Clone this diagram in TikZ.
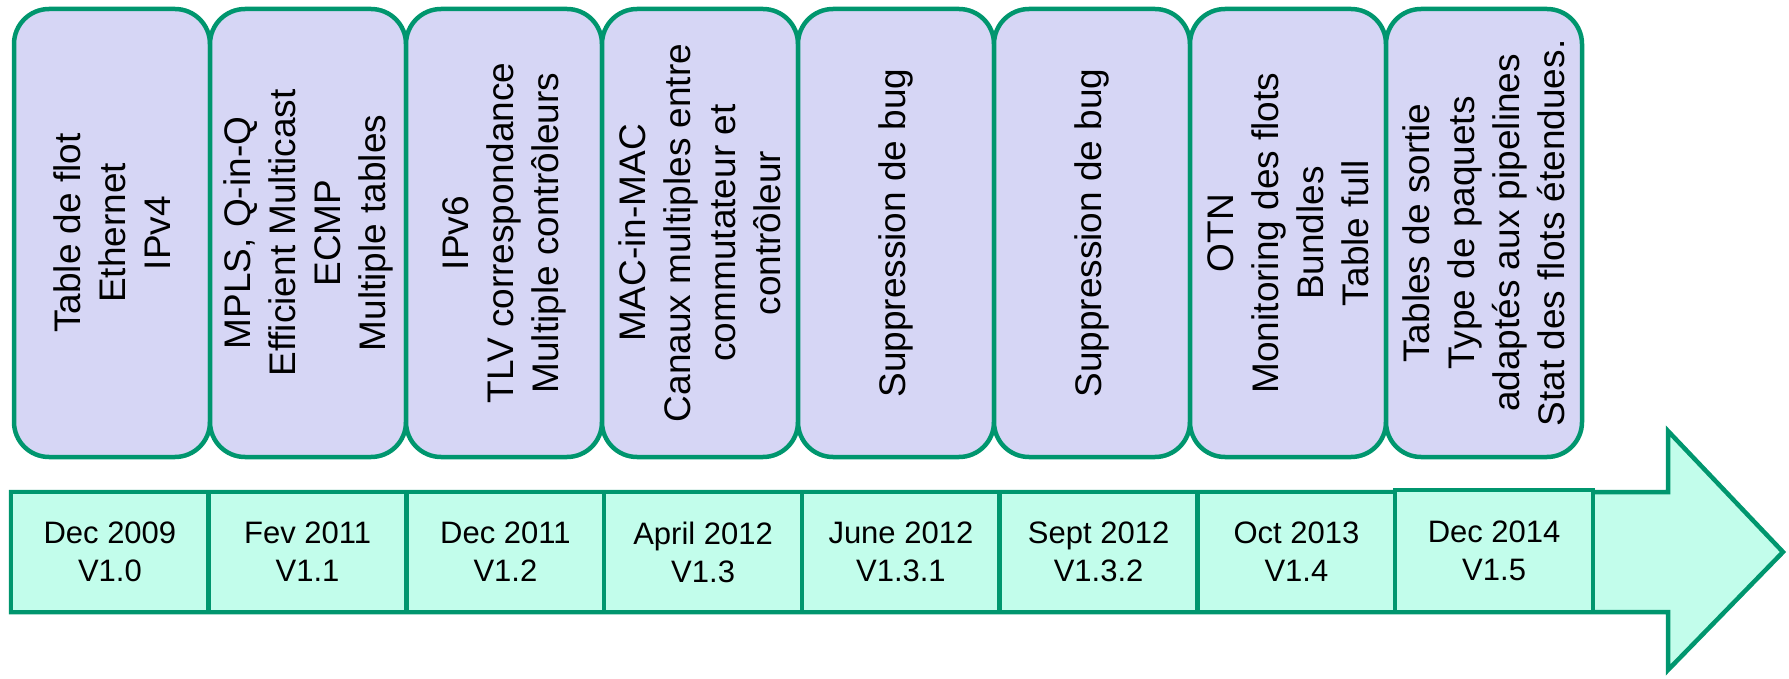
\documentclass[tikz,border=0pt]{standalone}
\usepackage{fontspec}
\setmainfont{Liberation Sans}
\definecolor{edgegreen}{RGB}{0,150,110}
\definecolor{lavender}{RGB}{214,214,245}
\definecolor{mintfill}{RGB}{194,253,235}
\begin{document}
\begin{tikzpicture}[x=1pt,y=-1pt,
  featbox/.style={draw=edgegreen, fill=lavender, line width=4.5pt,
    rounded corners=35pt, rotate=90, minimum width=448pt,
    minimum height=196pt, align=center, inner sep=0pt,
    font=\fontsize{37}{45}\selectfont},
  datebox/.style={draw=edgegreen, fill=mintfill, line width=4.5pt,
    minimum width=197.75pt, minimum height=120pt, align=center,
    inner sep=0pt, font=\fontsize{31}{38}\selectfont},
  timeline/.style={draw=edgegreen, fill=mintfill, line width=4.5pt,
    line join=miter}]
\useasboundingbox (0,0) rectangle (1789,679);

% timeline arrow
\draw[timeline] (11,492) -- (1668,492) -- (1668,431) -- (1783,552)
  -- (1668,670) -- (1668,612) -- (11,612) -- cycle;

% feature boxes
\node[featbox] (f1) at (112,233) {Table de flot\\Ethernet\\IPv4};
\node[featbox] (f2) at (308,233) {MPLS, Q-in-Q\\Efficient Multicast\\ECMP\\Multiple tables};
\node[featbox] (f3) at (504,233) {IPv6\\TLV correspondance\\Multiple contrôleurs};
\node[featbox] (f4) at (700,233) {MAC-in-MAC\\Canaux multiples entre\\commutateur et\\contrôleur};
\node[featbox] (f5) at (896,233) {Suppression de bug};
\node[featbox] (f6) at (1092,233) {Suppression de bug};
\node[featbox] (f7) at (1288,233) {OTN\\Monitoring des flots\\Bundles\\Table full};
\node[featbox] (f8) at (1484,233) {Tables de sortie\\Type de paquets\\adaptés aux pipelines\\Stat des flots étendues.};

% release dates
\node[datebox] (d1) at (109.9,552) {Dec 2009\\V1.0};
\node[datebox] (d2) at (307.6,552) {Fev 2011\\V1.1};
\node[datebox] (d3) at (505.4,552) {Dec 2011\\V1.2};
\node[datebox] (d4) at (703.1,552) {April 2012\\V1.3};
\node[datebox] (d5) at (900.9,552) {June 2012\\V1.3.1};
\node[datebox] (d6) at (1098.6,552) {Sept 2012\\V1.3.2};
\node[datebox] (d7) at (1296.4,552) {Oct 2013\\V1.4};
\node[datebox, minimum height=122pt] (d8) at (1494.1,551) {Dec 2014\\V1.5};
\end{tikzpicture}
\end{document}
